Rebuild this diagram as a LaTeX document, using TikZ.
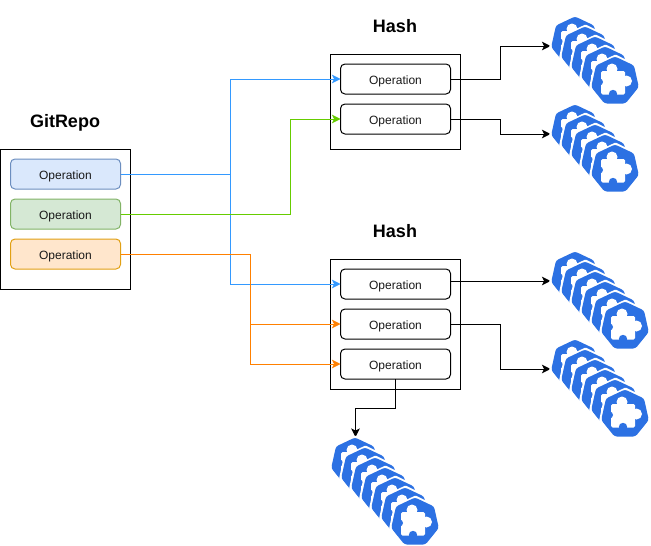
\documentclass[tikz,border=0pt]{standalone}
\usepackage{fontspec}
\setmainfont{Liberation Sans}
\usetikzlibrary{arrows.meta}
\definecolor{kblue}{HTML}{2C71E3}
\definecolor{lblue}{HTML}{3399FF}
\definecolor{lgreen}{HTML}{66CC00}
\definecolor{lorange}{HTML}{FF8000}
\tikzset{
  x=1pt,y=-1pt,
  box/.style={draw=black,line width=1pt,fill=white,minimum width=130pt,inner sep=0pt,outer sep=0pt,anchor=north west},
  opbox/.style={draw=black,line width=1pt,rounded corners=4.5pt,minimum width=110pt,minimum height=30pt,inner sep=0pt,outer sep=0pt,anchor=north west,text height=10pt,text depth=0pt,font=\fontsize{12}{14}\selectfont,text=black!90},
  title/.style={font=\fontsize{18}{21}\bfseries\selectfont,inner sep=0pt},
  conn/.style={line width=1pt,-{Stealth[length=8.5pt,width=8.5pt,inset=2pt]}},
  kicon/.pic={
    \fill[white,rounded corners=1pt] (0.5,-25.5)--(21,-15.5)--(26,8)--(11.5,26.5)--(-11.5,26.5)--(-26,8)--(-21,-15.5)--cycle;
    \fill[kblue,rounded corners=2.5pt] (0,-23.5)--(19,-14.5)--(23.8,7)--(10.5,23.5)--(-10.5,23.5)--(-23.8,7)--(-19,-14.5)--cycle;
    \fill[white,rounded corners=1.5pt] (-14,-9) rectangle (10,14.5);
    \fill[white] (-3,-11) circle (5.5);
    \fill[white] (11.5,1) circle (5.5);
    \fill[kblue] (-2,14) circle (4.2);
    \fill[kblue] (-15.5,2) circle (3.5);
  }
}
\newcommand{\kstack}[3]{\foreach \k in {1,...,#3} {\pic at ({#1+10*(\k-1)},{#2+10*(\k-1)}) {kicon};}}
\begin{document}
\begin{tikzpicture}
\useasboundingbox (0,0) rectangle (651,546);
% containers
\node[box,minimum height=140pt] (git) at (0.5,149) {};
\node[box,minimum height=95pt] (hash1) at (330.5,54) {};
\node[box,minimum height=130pt] (hash2) at (330.5,259) {};
% titles
\node[title] (tgit) at (65,123) {GitRepo};
\node[title] (th1) at (395,26) {Hash};
\node[title] (th2) at (395,231) {Hash};
% operations
\node[opbox,fill={rgb,255:red,218;green,232;blue,252},draw={rgb,255:red,108;green,142;blue,191}] at (10.5,159) (g1) {Operation};
\node[opbox,fill={rgb,255:red,213;green,232;blue,212},draw={rgb,255:red,130;green,179;blue,102}] at (10.5,199) (g2) {Operation};
\node[opbox,fill={rgb,255:red,255;green,230;blue,204},draw={rgb,255:red,225;green,160;blue,20}] at (10.5,239) (g3) {Operation};
\node[opbox] at (340.5,64) (a1) {Operation};
\node[opbox] at (340.5,104) (a2) {Operation};
\node[opbox] at (340.5,269) (b1) {Operation};
\node[opbox] at (340.5,309) (b2) {Operation};
\node[opbox] at (340.5,349) (b3) {Operation};
% junction and free-end coordinates
\coordinate (jb) at (230.5,174);
\coordinate (jg) at (290.5,214);
\coordinate (jo) at (250.5,254);
\coordinate (s1) at (550.5,46);
\coordinate (s2) at (550.5,134);
\coordinate (s3) at (550.5,281);
\coordinate (s4) at (550.5,369);
\coordinate (s5) at (355.5,437);
\coordinate (m1) at (500.5,0);
\coordinate (m2) at (355.5,408);
% connectors
\draw[conn,color=lblue] (g1.east) -- (jb) |- (a1.west);
\draw[conn,color=lblue] (jb) |- (b1.west);
\draw[conn,color=lgreen] (g2.east) -- (jg) |- (a2.west);
\draw[conn,color=lorange] (g3.east) -- (jo) |- (b2.west);
\draw[conn,color=lorange] (jo) |- (b3.west);
\draw[conn,color=black] (a1.east) -- (m1 |- a1.east) |- (s1);
\draw[conn,color=black] (a2.east) -- (m1 |- a2.east) |- (s2);
\draw[conn,color=black] (b1.east |- s3) -- (s3);
\draw[conn,color=black] (b2.east) -- (m1 |- b2.east) |- (s4);
\draw[conn,color=black] (b3.south) |- (m2) -- (s5);
% icons
\kstack{575}{40}{5}
\kstack{575}{128}{5}
\kstack{575}{275}{6}
\kstack{575}{363}{6}
\kstack{355}{461}{7}
\end{tikzpicture}
\end{document}
